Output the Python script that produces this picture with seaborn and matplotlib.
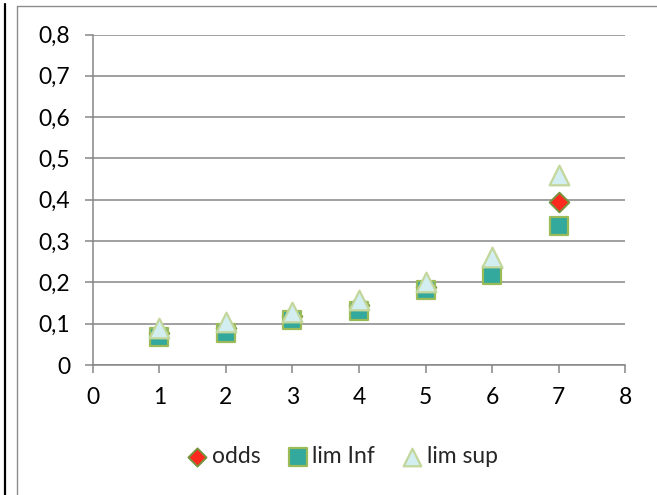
import matplotlib
matplotlib.use("Agg")
import matplotlib.pyplot as plt
from matplotlib.lines import Line2D
from matplotlib.ticker import FuncFormatter
import seaborn as sns
import pandas as pd

# values
x = [1, 2, 3, 4, 5, 6, 7]
odds = [0.077, 0.090, 0.118, 0.145, 0.190, 0.238, 0.395]
lim_inf = [0.067, 0.078, 0.110, 0.131, 0.182, 0.219, 0.336]
lim_sup = [0.089, 0.103, 0.129, 0.157, 0.201, 0.262, 0.461]

df = pd.DataFrame({'x': x, 'odds': odds, 'lim Inf': lim_inf, 'lim sup': lim_sup})

sns.set_style("white")
plt.rcParams['font.family'] = ['Lato', 'DejaVu Sans']

fig = plt.figure(figsize=(6.57, 4.95), dpi=100)
ax = fig.add_axes([0.141, 0.2626, 0.811, 0.6677])

grid_col = '#868686'

# odds first, then lim Inf, lim sup on top
sns.scatterplot(data=df, x='x', y='odds', ax=ax, marker='D', s=100,
                color='#FF2A1F', edgecolor='#77933C', linewidth=1.4,
                label='odds', zorder=3)
sns.scatterplot(data=df, x='x', y='lim Inf', ax=ax, marker='s', s=185,
                color='#33A89C', edgecolor='#9BBB59', linewidth=1.6,
                label='lim Inf', zorder=4)
sns.scatterplot(data=df, x='x', y='lim sup', ax=ax, marker='^', s=200,
                color='#D3EEF0', edgecolor='#C3D69B', linewidth=1.6,
                label='lim sup', zorder=5)

ax.set_xlim(0, 8)
ax.set_ylim(0, 0.8)
ax.set_xticks(range(0, 9))
ax.set_yticks([i / 10 for i in range(0, 9)])
ax.yaxis.set_major_formatter(FuncFormatter(
    lambda v, p: '0' if abs(v) < 1e-9 else f'{v:.1f}'.replace('.', ',')))
ax.set_xlabel('')
ax.set_ylabel('')

ax.grid(False)
ax.yaxis.grid(True, color=grid_col, linewidth=1.1)
ax.set_axisbelow(True)
for side in ['top', 'right']:
    ax.spines[side].set_visible(False)
for side in ['left', 'bottom']:
    ax.spines[side].set_color(grid_col)
    ax.spines[side].set_linewidth(1.1)
ax.tick_params(axis='both', which='major', direction='out', length=6,
               width=1.1, color=grid_col, labelsize=16.5, labelcolor='black',
               left=True, bottom=True)
ax.tick_params(axis='y', pad=10)
ax.tick_params(axis='x', pad=10)

leg = ax.legend(loc='center', bbox_to_anchor=(0.47, -0.277), ncol=3, frameon=False,
                fontsize=16.5, handlelength=0.8, handletextpad=0.25,
                columnspacing=1.2, borderaxespad=0)
for h, sz in zip(leg.legend_handles, [85, 150, 160]):
    h.set_sizes([sz])

# outer chart border and the black line at the left
fig.add_artist(Line2D([16.5 / 657, 16.5 / 657], [0, 1 - 5.5 / 495],
                      transform=fig.transFigure, color='#8C8C8C', lw=1.0))
fig.add_artist(Line2D([16.5 / 657, 1], [1 - 5.5 / 495, 1 - 5.5 / 495],
                      transform=fig.transFigure, color='#8C8C8C', lw=1.0))
fig.add_artist(Line2D([5 / 657, 5 / 657], [0, 1 - 4 / 495],
                      transform=fig.transFigure, color='black', lw=1.6))

fig.savefig('out.png', dpi=100)
